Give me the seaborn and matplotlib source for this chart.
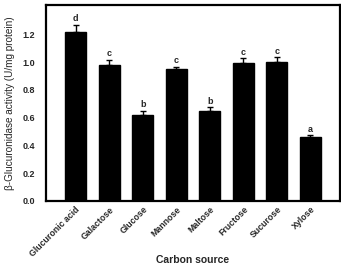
import matplotlib
matplotlib.use("Agg")
import matplotlib.pyplot as plt
import seaborn as sns
import pandas as pd

categories = ["Glucuronic acid", "Galactose", "Glucose", "Mannose", "Maltose", "Fructose", "Sucurose", "Xylose"]
values = [1.22, 0.98, 0.62, 0.95, 0.65, 0.995, 1.0, 0.46]
errors = [0.05, 0.035, 0.03, 0.017, 0.025, 0.033, 0.034, 0.012]
letters = ["d", "c", "b", "c", "b", "c", "c", "a"]
yticks = [0.0, 0.2, 0.4, 0.6, 0.8, 1.0, 1.2]

sns.set_style("white")
plt.rcParams['font.family'] = ['Liberation Sans', 'DejaVu Sans']

df = pd.DataFrame({"cat": categories, "val": values})
fig = plt.figure(figsize=(3.41, 2.66), dpi=100)
ax = fig.add_axes([0.135, 0.245, 0.862, 0.735])
sns.barplot(data=df, x="cat", y="val", color="black", width=0.62, ax=ax,
            edgecolor="black", saturation=1)
ax.errorbar(range(len(categories)), values, yerr=[[0]*len(errors), errors], fmt="none",
            ecolor="black", elinewidth=1, capsize=2.5, capthick=1)
for i, (v, e, l) in enumerate(zip(values, errors, letters)):
    ax.text(i, v + e + 0.012, l, ha="center", va="bottom", fontsize=6.5, fontweight="bold")

ax.set_xlim(-0.88, 7.88)
ax.set_ylim(0, 1.41)
ax.set_yticks(yticks)
ax.set_yticklabels([f"{t:.1f}" for t in yticks], fontsize=6.5, fontweight="bold")
ax.set_xticks(range(len(categories)))
ax.set_xticklabels(categories, rotation=45, ha="right", rotation_mode="anchor", fontsize=6.3, fontweight="bold")
ax.tick_params(axis="y", direction="in", length=2, width=0.8, pad=8)
ax.tick_params(axis="x", length=0, pad=3)
ax.set_xlabel("")
fig.text(193 / 341, 1 - 260 / 266, "Carbon source", ha="center", va="center",
         fontsize=7.5, fontweight="bold")
ax.set_ylabel("β-Glucuronidase activity (U/mg protein)", fontsize=7.2, labelpad=5)
for s in ax.spines.values():
    s.set_visible(True)
    s.set_color("black")
    s.set_linewidth(1.6)
fig.savefig("out.png", dpi=100)
